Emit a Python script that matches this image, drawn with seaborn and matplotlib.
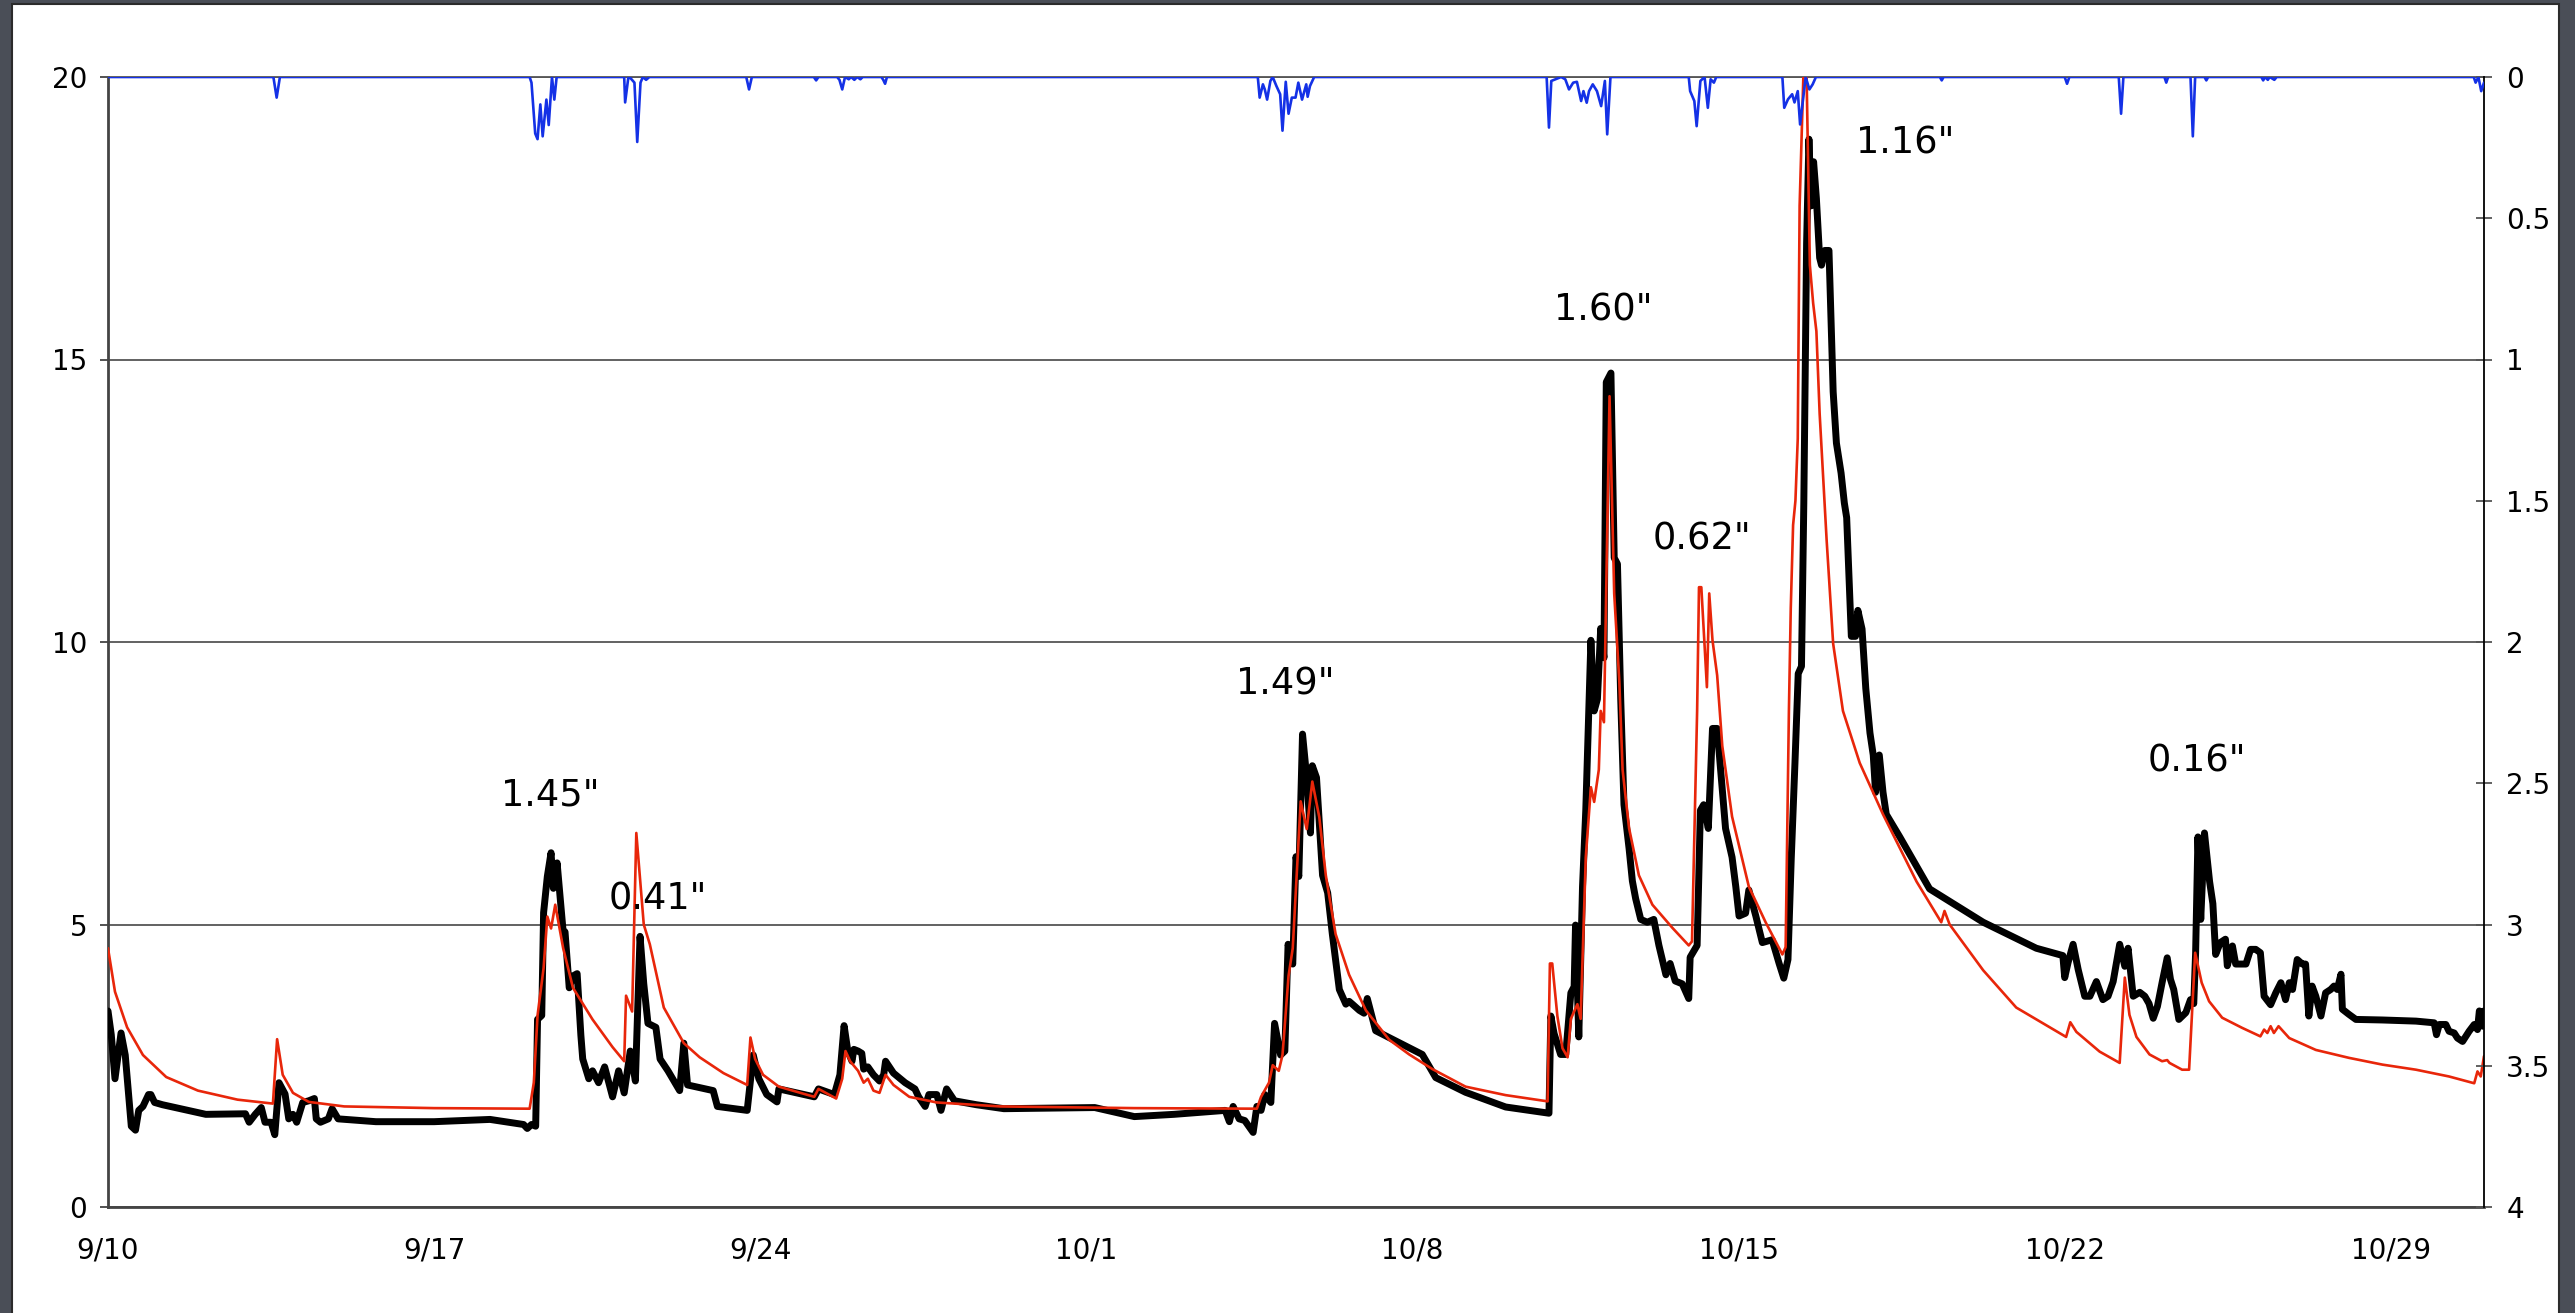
import numpy as np
import pandas as pd
import matplotlib
matplotlib.use("Agg")
import matplotlib.pyplot as plt
import matplotlib.dates as mdates
from matplotlib.patches import Rectangle
import seaborn as sns

# ---------------- data (days after 9/10) ----------------
START = pd.Timestamp("2009-09-10")

obs_day = [0, 0.07, 0.15, 0.28, 0.37, 0.5, 0.59, 0.66, 0.75, 0.87, 0.92, 1.0, 1.17, 2.1, 2.95, 3.03,
           3.16, 3.29, 3.37, 3.5, 3.58, 3.67, 3.8, 3.88, 3.97, 4.05, 4.18, 4.31, 4.43, 4.47, 4.56, 4.73,
           4.81, 4.94, 5.75, 7.0, 8.2, 8.92, 9.0, 9.09, 9.18, 9.22, 9.31, 9.35, 9.43, 9.51, 9.56, 9.64,
           9.77, 9.81, 9.9, 9.98, 10.07, 10.15, 10.19, 10.32, 10.4, 10.53, 10.66, 10.83, 10.96, 11.08,
           11.21, 11.32, 11.42, 11.5, 11.59, 11.76, 11.85, 12.02, 12.27, 12.36, 12.44, 12.99, 13.08,
           13.72, 13.85, 13.97, 14.14, 14.36, 14.4, 15.16, 15.25, 15.59, 15.71, 15.8, 15.88, 15.97,
           16.01, 16.1, 16.18, 16.22, 16.31, 16.43, 16.56, 16.65, 16.69, 16.86, 17.11, 17.32, 17.4,
           17.54, 17.62, 17.79, 17.88, 18.0, 18.17, 18.64, 19.23, 21.18, 22.03, 22.88, 23.98, 24.07,
           24.15, 24.28, 24.4, 24.58, 24.66, 24.75, 24.83, 24.96, 25.04, 25.17, 25.26, 25.33, 25.43,
           25.5, 25.56, 25.64, 25.73, 25.81, 25.85, 25.94, 26.07, 26.18, 26.28, 26.43, 26.57, 26.64,
           26.71, 26.86, 26.96, 27.03, 27.21, 27.71, 28.21, 28.5, 29.14, 30.0, 30.93, 30.97, 31.04,
           31.18, 31.29, 31.4, 31.47, 31.5, 31.57, 31.65, 31.72, 31.83, 31.9, 31.97, 32.04, 32.11,
           32.16, 32.26, 32.33, 32.4, 32.47, 32.54, 32.65, 32.72, 32.79, 32.9, 33.04, 33.18, 33.29,
           33.44, 33.53, 33.64, 33.79, 33.93, 33.96, 34.11, 34.18, 34.25, 34.35, 34.44, 34.54, 34.72,
           34.86, 34.94, 35.01, 35.15, 35.22, 35.37, 35.51, 35.72, 35.87, 35.97, 36.06, 36.13, 36.21,
           36.28, 36.35, 36.4, 36.46, 36.51, 36.56, 36.61, 36.67, 36.74, 36.78, 36.85, 36.94, 37.03,
           37.1, 37.2, 37.27, 37.32, 37.42, 37.51, 37.56, 37.65, 37.73, 37.82, 37.89, 37.94, 38.02,
           38.1, 38.17, 38.46, 39.1, 40.25, 41.39, 41.96, 42.0, 42.07, 42.18, 42.29, 42.43, 42.54,
           42.68, 42.82, 42.93, 43.04, 43.18, 43.29, 43.36, 43.47, 43.61, 43.72, 43.81, 43.9, 43.99,
           44.09, 44.2, 44.27, 44.34, 44.45, 44.6, 44.7, 44.77, 44.81, 44.86, 44.92, 45.0, 45.11,
           45.18, 45.24, 45.34, 45.45, 45.49, 45.6, 45.67, 45.89, 45.99, 46.1, 46.2, 46.28, 46.42,
           46.53, 46.64, 46.74, 46.82, 46.89, 46.99, 47.1, 47.17, 47.24, 47.31, 47.39, 47.5, 47.6,
           47.71, 47.78, 47.85, 47.93, 47.96, 48.1, 48.25, 48.82, 49.54, 49.93, 49.98, 50.04, 50.18,
           50.25, 50.36, 50.43, 50.54, 50.61, 50.68, 50.79, 50.86, 50.9, 50.97, 51.0]
obs_flow = [3.47, 3.05, 2.27, 3.08, 2.69, 1.43, 1.36, 1.71, 1.78, 1.99, 1.99, 1.85, 1.81, 1.64, 1.65, 1.5,
            1.64, 1.76, 1.5, 1.5, 1.28, 2.2, 2.0, 1.56, 1.64, 1.5, 1.85, 1.88, 1.92, 1.56, 1.5, 1.56,
            1.74, 1.56, 1.51, 1.51, 1.55, 1.46, 1.39, 1.46, 1.43, 3.32, 3.39, 5.21, 5.85, 6.27, 5.64, 6.09,
            4.87, 4.87, 3.88, 4.09, 4.13, 3.04, 2.62, 2.27, 2.41, 2.2, 2.48, 1.95, 2.41, 2.02,
            2.76, 2.23, 4.79, 3.95, 3.25, 3.18, 2.62, 2.41, 2.06, 2.9, 2.16, 2.06, 1.78,
            1.71, 2.69, 2.27, 1.99, 1.86, 2.09, 1.95, 2.09, 1.99, 2.34, 3.21, 2.76, 2.58,
            2.79, 2.76, 2.72, 2.44, 2.48, 2.34, 2.23, 2.34, 2.58, 2.37, 2.2, 2.09, 1.95,
            1.78, 1.99, 1.99, 1.71, 2.09, 1.88, 1.81, 1.74, 1.76, 1.6, 1.64, 1.71, 1.51,
            1.78, 1.56, 1.53, 1.32, 1.78, 1.71, 1.99, 1.85, 3.25, 2.69, 2.76, 4.65, 4.3,
            6.2, 5.85, 8.37, 7.6, 6.62, 7.81, 7.6, 5.87, 5.56, 4.83, 3.85, 3.59, 3.64,
            3.59, 3.48, 3.43, 3.69, 3.12, 2.91, 2.7, 2.29, 2.03, 1.77, 1.66, 3.38, 3.07,
            2.7, 2.7, 3.79, 3.9, 4.99, 3.01, 5.67, 7.02, 10.03, 8.78, 8.99, 10.24, 9.72,
            14.6, 14.76, 11.49, 11.38, 8.99, 7.12, 6.34, 5.77, 5.46, 5.09, 5.04, 5.09, 4.63,
            4.11, 4.31, 4.0, 3.95, 3.69, 4.42, 4.63, 7.02, 7.12, 6.7, 8.47, 8.47, 6.7,
            6.19, 5.67, 5.15, 5.2, 5.61, 5.15, 4.68, 4.73, 4.31, 4.05, 4.38, 6.16, 7.86,
            9.44, 9.57, 12.46, 17.06, 18.9, 17.72, 18.5, 17.85, 16.8, 16.67, 16.93, 16.93, 14.43,
            13.52, 12.99, 12.46, 12.2, 10.1, 10.1, 10.56, 10.23, 9.18, 8.39, 8.0, 7.34, 8.0,
            7.34, 6.95, 6.55, 5.63, 5.04, 4.58, 4.45, 4.06, 4.32, 4.65, 4.2, 3.73, 3.73,
            3.99, 3.67, 3.73, 3.99, 4.65, 4.26, 4.58, 3.73, 3.8, 3.73, 3.6, 3.34, 3.55,
            3.97, 4.41, 4.03, 3.85, 3.32, 3.44, 3.67, 3.6, 4.5, 6.55, 5.09, 6.62, 5.76,
            5.37, 4.47, 4.68, 4.74, 4.27, 4.62, 4.3, 4.3, 4.56, 4.56, 4.5, 3.73, 3.58,
            3.79, 3.97, 3.67, 3.97, 3.85, 4.38, 4.3, 4.3, 3.38, 3.91, 3.73, 3.38, 3.79,
            3.85, 3.91, 3.85, 4.12, 3.5, 3.41, 3.32, 3.31, 3.29, 3.26, 3.05, 3.23, 3.23,
            3.11, 3.08, 2.99, 2.93, 3.02, 3.11, 3.23, 3.14, 3.47, 3.2, 3.47]

model_day = [0, 0.15, 0.41, 0.75, 1.25, 1.93, 2.78, 3.54, 3.63, 3.75, 3.97, 4.31, 5.07, 7.0, 9.05, 9.14,
             9.22, 9.35, 9.43, 9.51, 9.6, 9.77, 9.98, 10.4, 10.83, 11.08, 11.12, 11.25, 11.34, 11.5,
             11.63, 11.93, 12.36, 12.7, 13.21, 13.72, 13.79, 13.89, 14.06, 14.4, 15.16, 15.25, 15.63,
             15.76, 15.83, 15.93, 16.1, 16.22, 16.31, 16.43, 16.56, 16.69, 16.86, 17.2, 17.79, 19.15,
             22.03, 24.66, 24.75, 24.92, 25.0, 25.13, 25.21, 25.34, 25.43, 25.6, 25.73, 25.85, 26.0,
             26.14, 26.35, 26.64, 27.0, 27.5, 27.93, 28.43, 29.14, 30.0, 30.9, 30.95, 31.0, 31.11,
             31.22, 31.33, 31.4, 31.54, 31.61, 31.72, 31.83, 31.9, 32.0, 32.04, 32.11, 32.23, 32.33,
             32.44, 32.51, 32.65, 32.86, 33.15, 33.58, 33.93, 34.0, 34.11, 34.15, 34.2, 34.32, 34.37,
             34.44, 34.54, 34.65, 34.86, 35.22, 35.58, 35.94, 36.01, 36.08, 36.12, 36.17, 36.22, 36.27,
             36.31, 36.39, 36.46, 36.53, 36.6, 36.67, 36.74, 36.89, 37.03, 37.24, 37.6, 38.1, 38.82,
             39.35, 39.42, 39.53, 40.25, 40.96, 42.03, 42.12, 42.25, 42.75, 43.18, 43.29, 43.39, 43.54,
             43.82, 44.09, 44.2, 44.25, 44.52, 44.67, 44.8, 44.94, 45.1, 45.38, 45.81, 46.2, 46.28,
             46.35, 46.42, 46.49, 46.59, 46.82, 47.39, 48.1, 48.82, 49.54, 50.25, 50.79, 50.86, 50.93,
             51.0]
model_flow = [4.58, 3.81, 3.18, 2.69, 2.3, 2.06, 1.9, 1.83, 2.97, 2.34, 2.02, 1.86, 1.78, 1.75, 1.74, 2.2,
              3.39, 4.23, 5.14, 4.93, 5.35, 4.58, 3.88, 3.32, 2.83, 2.58, 3.74, 3.46, 6.62, 5.0,
              4.65, 3.53, 2.9, 2.65, 2.37, 2.16, 3.0, 2.62, 2.34, 2.13, 1.95, 2.09, 1.92,
              2.27, 2.76, 2.58, 2.41, 2.2, 2.27, 2.06, 2.02, 2.34, 2.16, 1.95, 1.85, 1.78,
              1.75, 1.74, 1.95, 2.2, 2.51, 2.41, 2.69, 4.09, 4.58, 7.18, 6.69, 7.53, 6.9,
              5.87, 4.83, 4.11, 3.48, 2.96, 2.7, 2.44, 2.13, 1.98, 1.87, 4.31, 4.31, 3.38,
              2.81, 2.65, 3.33, 3.59, 3.33, 6.19, 7.43, 7.17, 7.74, 8.78, 8.58, 14.35, 10.86,
              9.3, 7.74, 6.7, 5.87, 5.35, 4.94, 4.63, 4.7, 8.78, 10.97, 10.97, 9.2, 10.86,
              10.03, 9.41, 8.16, 6.91, 5.67, 5.04, 4.47, 4.6, 8.78, 10.6, 12.07, 12.5, 13.6,
              17.72, 20.0, 20.0, 16.67, 16.0, 15.5, 14.04, 11.8, 9.97, 8.78, 7.86, 6.95, 5.76,
              5.04, 5.24, 5.0, 4.19, 3.53, 3.01, 3.27, 3.1, 2.75, 2.55, 4.06, 3.4, 3.01,
              2.7, 2.58, 2.6, 2.55, 2.43, 2.43, 4.5, 3.97, 3.64, 3.35, 3.17, 3.02, 3.14,
              3.08, 3.2, 3.08, 3.2, 2.99, 2.78, 2.64, 2.52, 2.43, 2.31, 2.19, 2.4, 2.31,
              2.67]

rain_day = [0, 3.55, 3.62, 3.69, 9.05, 9.09, 9.17, 9.22, 9.28, 9.33, 9.41, 9.46, 9.53, 9.58, 9.63,
            11.08, 11.1, 11.17, 11.22, 11.3, 11.36, 11.43, 11.48, 11.55, 11.62, 13.7, 13.76, 13.82,
            15.15, 15.2, 15.25, 15.65, 15.7, 15.76, 15.82, 15.9, 15.95, 16.02, 16.08, 16.15, 16.2,
            16.6, 16.64, 16.68, 16.72, 24.68, 24.72, 24.79, 24.83, 24.88, 24.95, 25.0, 25.08, 25.16,
            25.21, 25.28, 25.34, 25.41, 25.49, 25.55, 25.63, 25.72, 25.75, 25.8, 25.89, 30.88, 30.93,
            30.98, 31.19, 31.28, 31.36, 31.45, 31.53, 31.62, 31.67, 31.74, 31.79, 31.87, 31.96, 32.05,
            32.13, 32.18, 32.25, 33.93, 33.96, 34.05, 34.1, 34.18, 34.27, 34.34, 34.4, 34.47, 34.52,
            35.94, 35.98, 36.06, 36.15, 36.2, 36.27, 36.32, 36.37, 36.44, 36.52, 36.59, 36.66, 39.32,
            39.36, 39.4, 42.0, 42.05, 42.1, 43.16, 43.21, 43.26, 44.14, 44.18, 44.22, 44.7, 44.75,
            44.8, 45.0, 45.04, 45.08, 46.22, 46.26, 46.3, 46.36, 46.4, 46.5, 46.55, 50.78, 50.82,
            50.88, 50.94, 51.0]
rain_in = [0, 0, 0.073, 0, 0, 0.02, 0.2, 0.22, 0.097, 0.21, 0.08, 0.17, 0.0, 0.08, 0.0,
           0, 0.09, 0.0, 0.005, 0.02, 0.23, 0.02, 0.0, 0.01, 0.0, 0, 0.044, 0,
           0, 0.012, 0, 0, 0.01, 0.044, 0, 0.008, 0, 0.01, 0, 0.008, 0,
           0, 0.01, 0.024, 0, 0, 0.073, 0.026, 0.044, 0.08, 0.014, 0.0, 0.032, 0.061,
           0.19, 0.017, 0.13, 0.073, 0.073, 0.02, 0.08, 0.026, 0.07, 0.032, 0, 0, 0.179,
           0.014, 0, 0.008, 0.044, 0.02, 0.017, 0.085, 0.05, 0.091, 0.05, 0.026, 0.05, 0.103,
           0.014, 0.203, 0, 0, 0.05, 0.085, 0.174, 0.014, 0, 0.109, 0.008, 0.02, 0,
           0, 0.109, 0.079, 0.061, 0.09, 0.05, 0.168, 0.097, 0, 0.044, 0.026, 0, 0,
           0.012, 0, 0, 0.024, 0, 0, 0.13, 0, 0, 0.02, 0, 0, 0.21,
           0, 0, 0.012, 0, 0, 0.012, 0, 0.01, 0, 0.01, 0, 0, 0.02,
           0, 0.05, 0.02]

label_text = ['1.45"', '0.41"', '1.49"', '1.60"', '0.62"', '1.16"', '0.16"']
label_day = [9.49, 11.8, 25.26, 32.09, 34.22, 38.58, 44.83]
label_flow = [7.3, 5.46, 9.25, 15.88, 11.83, 18.84, 7.89]

tick_days = [0, 7, 14, 21, 28, 35, 42, 49]
tick_labels = ["9/10", "9/17", "9/24", "10/1", "10/8", "10/15", "10/22", "10/29"]
flow_ticks = [0, 5, 10, 15, 20]
rain_ticks = [0, 0.5, 1, 1.5, 2, 2.5, 3, 3.5, 4]
rain_tick_labels = ["0", "0.5", "1", "1.5", "2", "2.5", "3", "3.5", "4"]

# ---------------- figure ----------------
sns.set_style("white")
plt.rcParams["font.family"] = ["DejaVu Sans"]

W, H = 2575, 1313
fig = plt.figure(figsize=(W / 100, H / 100), dpi=100)
fig.patch.set_facecolor("#4a4e57")
fig.add_artist(Rectangle((12 / W, -0.01), (2559 - 12) / W, 1.01 - 4 / H,
                         transform=fig.transFigure, facecolor="white",
                         edgecolor="#2b2b2b", lw=1.5, zorder=0))

ax = fig.add_axes([108 / W, 1 - 1207 / H, (2484 - 108) / W, (1207 - 77) / H])
ax.set_facecolor("white")

to_dates = lambda d: START + pd.to_timedelta(np.array(d, dtype=float), unit="D")
obs_df = pd.DataFrame({"date": to_dates(obs_day), "flow": obs_flow})
mod_df = pd.DataFrame({"date": to_dates(model_day), "flow": model_flow})
rain_df = pd.DataFrame({"date": to_dates(rain_day), "rain": rain_in})

sns.lineplot(data=obs_df, x="date", y="flow", ax=ax, color="black", lw=5.0,
             estimator=None, sort=False, zorder=3)
sns.lineplot(data=mod_df, x="date", y="flow", ax=ax, color="#e8260a", lw=1.9,
             estimator=None, sort=False, zorder=4)

ax.set_xlim(START, START + pd.Timedelta(days=51))
ax.set_ylim(0, 20)
ax.set_xlabel("")
ax.set_ylabel("")
ax.set_yticks(flow_ticks)
ax.set_yticklabels([str(v) for v in flow_ticks])
ax.set_xticks(to_dates(tick_days))
ax.set_xticklabels(tick_labels)
ax.xaxis.set_minor_locator(mdates.DayLocator())
ax.yaxis.grid(True, color="#555555", lw=1.3)
ax.xaxis.grid(False)
ax.set_axisbelow(True)

ax.tick_params(axis="y", which="major", direction="out", length=6, width=1.3,
               color="#444444", labelsize=20, pad=9, labelcolor="black")
ax.tick_params(axis="x", which="major", direction="inout", length=13, width=1.3,
               color="#444444", labelsize=20, pad=15, labelcolor="black")
ax.tick_params(axis="x", which="minor", direction="in", length=4.5, width=1.1,
               color="#444444")
for s in ["left", "bottom"]:
    ax.spines[s].set_color("#444444")
    ax.spines[s].set_linewidth(2.0)
ax.spines["top"].set_color("#555555")
ax.spines["top"].set_linewidth(1.3)
ax.spines["right"].set_visible(False)

for txt, d, v in zip(label_text, label_day, label_flow):
    ax.text(START + pd.Timedelta(days=d), v, txt, fontsize=26.5, ha="center",
            va="center", color="black", zorder=6)

ax2 = ax.twinx()
sns.lineplot(data=rain_df, x="date", y="rain", ax=ax2, color="#1431e6", lw=1.9,
             estimator=None, sort=False, zorder=5)
ax2.set_ylim(4, 0)
ax2.set_xlim(START, START + pd.Timedelta(days=51))
ax2.set_yticks(rain_ticks)
ax2.set_yticklabels(rain_tick_labels)
ax2.set_ylabel("")
ax2.set_xlabel("")
ax2.tick_params(axis="y", direction="inout", length=12, width=1.3, color="#555555",
                labelsize=20, pad=10, labelcolor="black")
ax2.spines["right"].set_color("black")
ax2.spines["right"].set_linewidth(1.3)
for s in ["left", "top", "bottom"]:
    ax2.spines[s].set_visible(False)
ax2.grid(False)

fig.savefig("out.png", dpi=100, facecolor=fig.get_facecolor())
